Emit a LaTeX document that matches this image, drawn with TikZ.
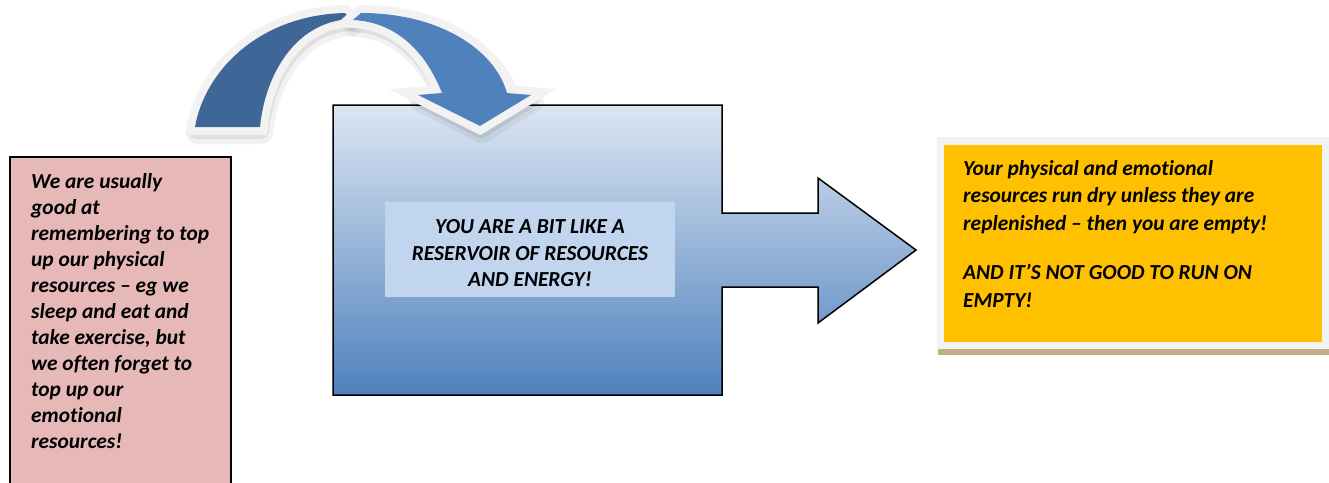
\documentclass[tikz,border=0pt]{standalone}
\usepackage{fontspec}
\setmainfont{Carlito}[Ligatures=NoCommon]
\usepackage{tikz}
\usetikzlibrary{arrows.meta}
\definecolor{memopink}{RGB}{230,185,184}
\definecolor{tanktop}{RGB}{220,230,242}
\definecolor{tankmid}{RGB}{172,192,222}
\definecolor{tankbottom}{RGB}{79,129,189}
\definecolor{labelblue}{RGB}{193,214,238}
\definecolor{bandback}{RGB}{62,102,150}
\definecolor{bandfront}{RGB}{79,129,189}
\definecolor{glowgrey}{RGB}{242,242,242}
\definecolor{emptyamber}{RGB}{255,192,0}
\definecolor{shelftan}{RGB}{196,175,128}

\begin{document}
\begin{tikzpicture}[x=1pt,y=-1pt,
 every node/.style={font=\fontsize{21.4}{26}\selectfont\bfseries\itshape,inner sep=0pt},
 band/.style={
  preaction={draw=black,draw opacity=0.05,line width=22pt,line join=round,
   transform canvas={xshift=2pt,yshift=-6pt}},
  preaction={draw=black,draw opacity=0.08,line width=16pt,line join=round,
   transform canvas={xshift=1pt,yshift=-4pt}},
  preaction={draw=glowgrey,line width=16pt,line join=miter},
  fill=#1}]
\path[use as bounding box,clip] (0,0) rectangle (1329,482);

\draw[fill=memopink,line width=1.3pt] (10,157) rectangle (231,520);
\node[anchor=base west,align=left] (memo) at (31,448)
 {We are usually\\good at\\remembering to top\\up our physical\\
  resources -- eg we\\sleep and eat and\\take exercise, but\\
  we often forget to\\top up our\\emotional\\resources!};

\draw[line width=1.5pt,top color=tanktop,middle color=tankmid,bottom color=tankbottom]
 (333,105) -- (722,105) -- (722,213) -- (818,213) -- (818,178) -- (916,250)
 -- (818,323) -- (818,287) -- (722,287) -- (722,395) -- (333,395) -- cycle;
\node[fill=labelblue,minimum width=290,minimum height=95] (reservoir) at (530,249.5) {};
\node[align=center,font=\fontsize{21.4}{26.5}\selectfont\bfseries\itshape]
 (reservoirtext) at (530,253.5)
 {YOU ARE A BIT LIKE A\\RESERVOIR OF RESOURCES\\AND ENERGY!};

\path[band=bandback]
 (195,127) .. controls (205,70) and (260,15) .. (345,13) -- (350,19)
 .. controls (295,22) and (265,75) .. (260,127) -- cycle;
\path[band=bandfront]
 (361,13) .. controls (440,13) and (495,50) .. (507,93)
 -- (531,95) -- (480,126) -- (418,95) -- (442,93)
 .. controls (425,50) and (395,22) .. (353,20) -- cycle;

\fill[shelftan] (938,349) rectangle (1329,355);
\fill[glowgrey] (937,137) rectangle (1329,349);
\fill[emptyamber] (944,145) rectangle (1322,342);
\node[anchor=base west,align=left,
 font=\fontsize{21.4}{27.5}\selectfont\bfseries\itshape] (empty) at (963,307)
 {Your physical and emotional\\resources run dry unless they are\\
  replenished -- then you are empty!\\[22pt]
  AND IT’S NOT GOOD TO RUN ON\\EMPTY!};
\end{tikzpicture}
\end{document}
